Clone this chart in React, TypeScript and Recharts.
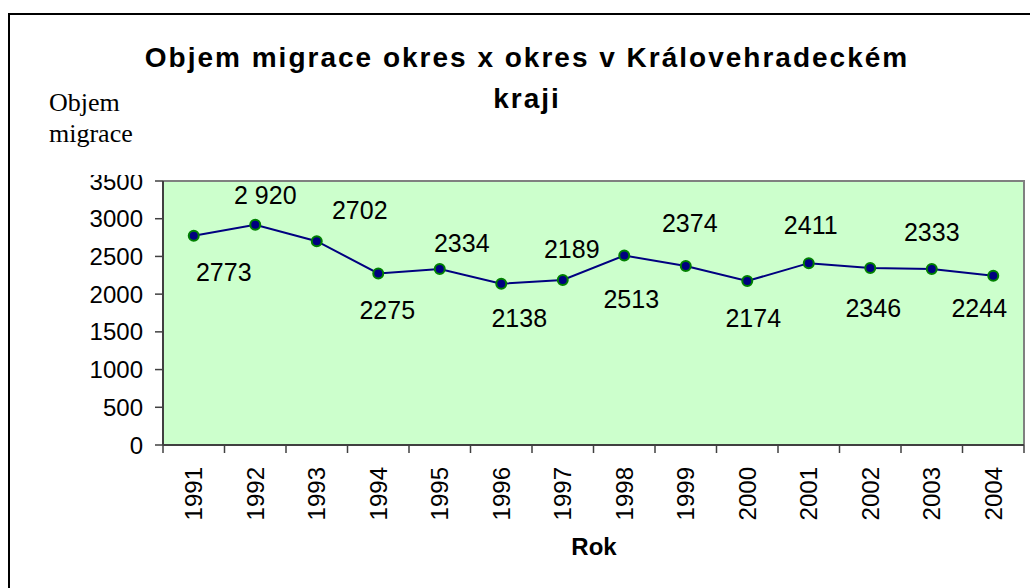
import React from "react";
import { LineChart, Line, XAxis, YAxis, LabelList } from "recharts";

const years = ["1991", "1992", "1993", "1994", "1995", "1996", "1997", "1998", "1999", "2000", "2001", "2002", "2003", "2004"];
const values = [2773, 2920, 2702, 2275, 2334, 2138, 2189, 2513, 2374, 2174, 2411, 2346, 2333, 2244];
const valueLabels = ["2773", "2 920", "2702", "2275", "2334", "2138", "2189", "2513", "2374", "2174", "2411", "2346", "2333", "2244"];
const yTicks = [0, 500, 1000, 1500, 2000, 2500, 3000, 3500];

// label placement offsets (style), relative to each point
const labelDx = [30, 10, 43, 9, 22, 18, 9, 7, 4, 6, 2, 3, 0, -14];
const labelDy = [36, -30, -31, 37, -26, 34, -31, 44, -43, 37, -38, 40, -37, 32];

const data = years.map((y, i) => ({ year: y, value: values[i] }));

const SANS = "'Liberation Sans', Arial, sans-serif";
const SERIF = "'Liberation Serif', 'Times New Roman', serif";
const AXIS = "#404040";

const YTick = (props: any) => {
  const { x, y, payload } = props;
  return (
    <g>
      <defs>
        <clipPath id={`yclip-${payload.value}`}>
          <rect x={0} y={175} width={300} height={400} />
        </clipPath>
      </defs>
      <text
        x={x}
        y={y}
        textAnchor="end"
        dominantBaseline="central"
        fontFamily={SANS}
        fontSize={24}
        fill="#000"
        clipPath={`url(#yclip-${payload.value})`}
      >
        {payload.value}
      </text>
    </g>
  );
};

const XTick = (props: any) => {
  const { x, y, payload, index, width } = props;
  const half = payload && payload.offset ? payload.offset : width / years.length / 2;
  const isLast = index === years.length - 1;
  return (
    <g>
      <line x1={x - half} x2={x - half} y1={y} y2={y + 8} stroke={AXIS} strokeWidth={1.5} />
      {isLast && <line x1={x + half} x2={x + half} y1={y} y2={y + 8} stroke={AXIS} strokeWidth={1.5} />}
      <text
        transform={`translate(${x},${y + 22}) rotate(-90)`}
        textAnchor="end"
        dy="0.35em"
        fontFamily={SANS}
        fontSize={24}
        fill="#000"
      >
        {payload.value}
      </text>
    </g>
  );
};

const ValueLabel = (props: any) => {
  const { x, y, index } = props;
  return (
    <text
      x={x + labelDx[index]}
      y={y + labelDy[index]}
      textAnchor="middle"
      dominantBaseline="central"
      fontFamily={SANS}
      fontSize={25}
      fill="#000"
    >
      {valueLabels[index]}
    </text>
  );
};

export default function App() {
  return (
    <div style={{ position: "absolute", left: 0, top: 0, width: 1030, height: 588, overflow: "hidden", background: "#fff" }}>
      <div
        style={{
          position: "absolute",
          left: 8,
          top: 13,
          width: 1100,
          height: 700,
          border: "2px solid #000",
          boxSizing: "border-box",
        }}
      />
      <div
        style={{
          position: "absolute",
          left: 163,
          top: 180,
          width: 862,
          height: 265,
          background: "#CCFFCC",
          borderTop: "2px solid #808080",
          borderRight: "2px solid #808080",
          boxSizing: "border-box",
        }}
      />
      <div style={{ position: "absolute", left: 0, top: 0 }}>
        <LineChart width={1030} height={588} data={data} margin={{ top: 181, right: 6, bottom: 43, left: 63 }}>
          <XAxis
            dataKey="year"
            scale="band"
            height={100}
            tickSize={0}
            tickMargin={0}
            tickLine={false}
            axisLine={{ stroke: AXIS, strokeWidth: 2 }}
            interval={0}
            tick={<XTick />}
          />
          <YAxis
            domain={[0, 3500]}
            ticks={yTicks}
            width={100}
            tickSize={8}
            tickMargin={12}
            tickLine={{ stroke: AXIS, strokeWidth: 1.5 }}
            axisLine={{ stroke: AXIS, strokeWidth: 2 }}
            tick={<YTick />}
            interval={0}
          />
          <Line
            type="linear"
            dataKey="value"
            stroke="#000080"
            strokeWidth={2}
            dot={{ r: 5, fill: "#000080", stroke: "#008000", strokeWidth: 2 }}
            isAnimationActive={false}
          >
            <LabelList dataKey="value" content={<ValueLabel />} />
          </Line>
        </LineChart>
      </div>
      <svg width={1030} height={588} style={{ position: "absolute", left: 0, top: 0, pointerEvents: "none" }}>
        <text x={527} y={67} textAnchor="middle" fontFamily={SANS} fontWeight="bold" fontSize={28} letterSpacing={2} fill="#000">
          Objem migrace okres x okres v Královehradeckém
        </text>
        <text x={527} y={108} textAnchor="middle" fontFamily={SANS} fontWeight="bold" fontSize={28} letterSpacing={2} fill="#000">
          kraji
        </text>
        <text x={49} y={111} fontFamily={SERIF} fontSize={26} fill="#000">
          Objem
        </text>
        <text x={49} y={142} fontFamily={SERIF} fontSize={26} fill="#000">
          migrace
        </text>
        <text x={594} y={555} textAnchor="middle" fontFamily={SANS} fontWeight="bold" fontSize={24} fill="#000">
          Rok
        </text>
      </svg>
    </div>
  );
}
